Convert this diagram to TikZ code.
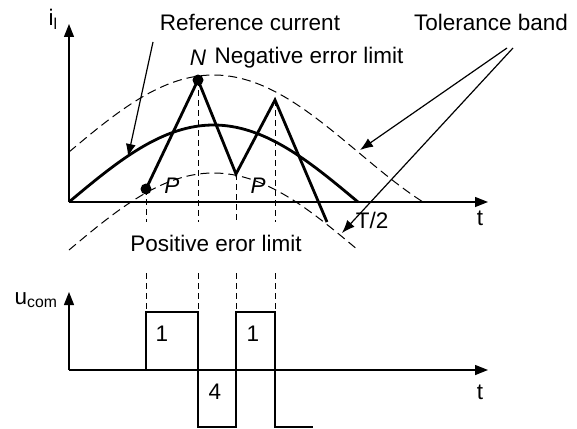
\documentclass[tikz,border=0pt]{standalone}
\usepackage{fontspec}
\setmainfont{Liberation Sans}
\usetikzlibrary{arrows.meta}

\begin{document}
\begin{tikzpicture}[x=1pt,y=-1pt,>={Latex[length=13pt,width=10pt]},
  font=\fontsize{22.5}{26}\selectfont,
  axis/.style={line width=1.4pt,-{Triangle[length=13pt,width=10pt]}},
  band/.style={line width=1pt,dash pattern=on 9pt off 5pt},
  guide/.style={line width=1pt,dash pattern=on 6pt off 4pt},
  trace/.style={line width=2.8pt},
  pointer/.style={line width=1.2pt,->}]
  \useasboundingbox (0,0) rectangle (577,428);
  \coordinate (o1) at (69,202);
  \coordinate (o2) at (69,370);
  \draw[axis] (o1) -- (69,24);
  \draw[axis] (o1) -- (488,202);
  \draw[axis] (o2) -- (69,292);
  \draw[axis] (o2) -- (488,370);
  \draw[trace] plot[domain=69:358,samples=70] (\x,{202-77*sin((\x-69)/289*180)});
  \draw[band] plot[domain=69:422,samples=80] (\x,{152-77*sin((\x-69)/289*180)});
  \draw[band] plot[domain=69:358,samples=70] (\x,{250-77*sin((\x-69)/289*180)});
  \coordinate (p1) at (146,189);
  \coordinate (n1) at (198,80);
  \coordinate (p2) at (236,174);
  \coordinate (n2) at (275,100);
  \coordinate (e1) at (327,222);
  \draw[trace] (p1) -- (n1) -- (p2) -- (n2) -- (e1);
  \foreach \x/\y in {146/189,198/80,236/174,275/100} {\draw[guide] (\x,\y) -- (\x,222); \draw[guide] (\x,273) -- (\x,312);}
  \fill (p1) circle (5.5pt);
  \fill (n1) circle (5.5pt);
  \draw[trace] (146,370) -- (146,312) -- (198,312) -- (198,427) -- (236,427) -- (236,312) -- (275,312) -- (275,427) -- (313,427);
  \node (ilbl) at (53,19) {i\textsubscript{l}};
  \node (reflbl) at (250,22) {Reference current};
  \node (nlbl) at (198,58) {\textit{N}};
  \node[anchor=west] (neglbl) at (211,58) {Negative error limit};
  \node (tollbl) at (491,22) {Tolerance band};
  \node (plbl1) at (172,186) {\textit{P}};
  \node (plbl2) at (258,186) {\textit{P}};
  \node (halflbl) at (372,220) {T/2};
  \node (tlbl1) at (480,218) {t};
  \node (poslbl) at (216,243) {Positive eror limit};
  \node (ulbl) at (36,300) {u\textsubscript{com}};
  \node (one1) at (162,334) {1};
  \node (four) at (215,392) {4};
  \node (one2) at (253,334) {1};
  \node (tlbl2) at (480,392) {t};
  \coordinate (refa) at (153,42);
  \coordinate (refb) at (128,157);
  \coordinate (tola) at (507,48);
  \coordinate (tolb) at (360,150);
  \coordinate (tolc) at (513,48);
  \coordinate (told) at (342,233);
  \draw[pointer] (refa) -- (refb);
  \draw[pointer] (tola) -- (tolb);
  \draw[pointer] (tolc) -- (told);
\end{tikzpicture}
\end{document}
